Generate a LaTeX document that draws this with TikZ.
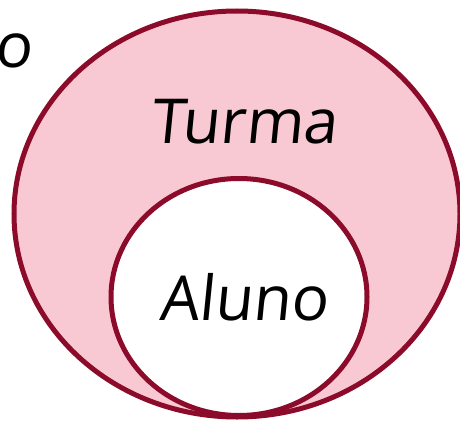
\documentclass[tikz,border=0pt]{standalone}
\usepackage{fontspec}
\setmainfont[FakeSlant=0.1]{Open Sans}
\usetikzlibrary{shapes.geometric}
\definecolor{rim}{HTML}{8C0A2A}
\definecolor{petal}{HTML}{F9C9D3}
\tikzset{
  setshape/.style={ellipse, draw=rim, line width=5pt, inner sep=0pt},
  label/.style={font=\fontsize{62}{62}\selectfont, text=black, inner sep=0pt, anchor=base}
}
\begin{document}
\begin{tikzpicture}[x=1pt,y=-1pt]
\useasboundingbox (0,0) rectangle (460,420);
\clip (0,0) rectangle (460,420);
\fill[white] (0,0) rectangle (460,420);
\node[setshape, fill=petal, minimum width=446pt, minimum height=406pt] (turma) at (237,214) {};
\node[setshape, fill=white, minimum width=256pt, minimum height=237pt] (aluno) at (239,297) {};
\node[label] (tlabel) at (244,143) {Turma};
\node[label] (alabel) at (243.5,320) {Aluno};
\node[label, anchor=base east] (olabel) at (32,67) {o};
\end{tikzpicture}
\end{document}
